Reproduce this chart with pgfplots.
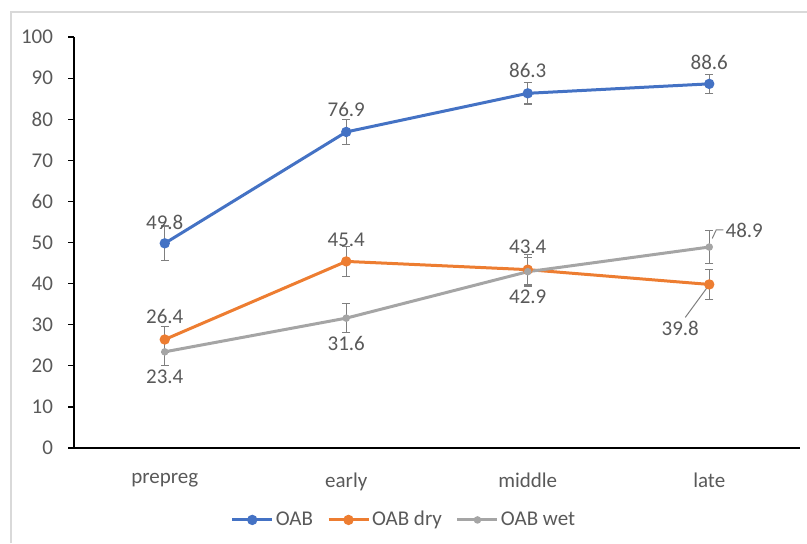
\documentclass[border=0pt]{standalone}
\usepackage{fontspec}
\setmainfont{Carlito}
\usepackage{pgfplots}
\pgfplotsset{compat=1.18}
\definecolor{cBlue}{HTML}{4472C4}
\definecolor{cOrange}{HTML}{ED7D31}
\definecolor{cGray}{HTML}{A5A5A5}
\definecolor{txt}{HTML}{595959}
\definecolor{errc}{HTML}{7F7F7F}
\tikzset{lab/.style={font=\fontsize{10.5}{12}\selectfont, text=txt, inner sep=0pt}}
\begin{document}
\begin{tikzpicture}[x=1pt,y=1pt]
\useasboundingbox (0,0) rectangle (403.5,271.5);
\draw[black!15, line width=0.8pt] (5.5,0) -- (5.5,265.5) -- (403.5,265.5);
\begin{axis}[
  at={(37pt,47.5pt)}, anchor=south west,
  width=363pt, height=205.5pt, scale only axis,
  xmin=-0.5, xmax=3.5, ymin=0, ymax=100,
  xtick={0,1,2,3}, xticklabels={prepreg,early,middle,late},
  ytick={0,10,...,100},
  axis x line*=bottom, axis y line*=left,
  axis line style={black, line width=0.8pt},
  xtick style={draw=none},
  ytick style={black, line width=0.6pt},
  tick align=outside, major tick length=3pt,
  tick label style={font=\fontsize{10.5}{12}\selectfont, text=txt},
  /pgf/number format/assume math mode=true,
  yticklabel style={xshift=-4pt},
  xticklabel style={yshift=-6pt},
  clip=false,
  legend style={at={(0.4545,-0.175)}, anchor=center, draw=none, fill=none,
    font=\fontsize{10.5}{12}\selectfont, text=txt, legend columns=3,
    nodes={inner xsep=1pt},
    /tikz/every even column/.append style={column sep=6pt}},
  legend cell align=left,
  legend image code/.code={\draw[mark repeat=2,mark phase=2] plot coordinates {(0pt,0pt) (10pt,0pt) (20pt,0pt)};},
  every axis plot/.append style={line width=1.5pt, mark=*, mark size=1.8pt,
    error bars/y dir=both, error bars/y explicit,
    error bars/error bar style={errc, line width=0.6pt, solid},
    error bars/error mark options={rotate=90, mark size=2pt, errc, line width=0.6pt}},
]
\addplot[cBlue, mark options={fill=cBlue, draw=cBlue}] coordinates {
  (0,49.8) +- (0,4.2)
  (1,76.9) +- (0,3.0)
  (2,86.3) +- (0,2.6)
  (3,88.6) +- (0,2.3)
};
\addlegendentry{OAB}
\addplot[cOrange, mark options={fill=cOrange, draw=cOrange}] coordinates {
  (0,26.4) +- (0,3.2)
  (1,45.4) +- (0,3.7)
  (2,43.4) +- (0,3.6)
  (3,39.8) +- (0,3.6)
};
\addlegendentry{OAB dry}
\addplot[cGray, mark options={fill=cGray, draw=cGray, scale=0.6}] coordinates {
  (0,23.4) +- (0,3.3)
  (1,31.6) +- (0,3.5)
  (2,42.9) +- (0,3.5)
  (3,48.9) +- (0,4.0)
};
\addlegendentry{OAB wet}
% data labels
\node[lab, yshift=10.5pt] at (axis cs:0,49.8) {49.8};
\node[lab, yshift=11pt] at (axis cs:1,76.9) {76.9};
\node[lab, yshift=11.5pt] at (axis cs:2,86.3) {86.3};
\node[lab, yshift=10.5pt] at (axis cs:3,88.6) {88.6};
\node[lab, yshift=11.5pt] at (axis cs:0,26.4) {26.4};
\node[lab, yshift=11pt] at (axis cs:1,45.4) {45.4};
\node[lab, yshift=11.5pt] at (axis cs:2,43.4) {43.4};
\node[lab, xshift=-14.5pt, yshift=-22pt] at (axis cs:3,39.8) {39.8};
\draw[errc, line width=0.5pt] ([xshift=-12pt,yshift=-16.5pt]axis cs:3,39.8) -- ([xshift=-1pt,yshift=-1.5pt]axis cs:3,39.8);
\node[lab, yshift=-12.5pt] at (axis cs:0,23.4) {23.4};
\node[lab, yshift=-12.5pt] at (axis cs:1,31.6) {31.6};
\node[lab, yshift=-12.5pt] at (axis cs:2,42.9) {42.9};
\node[lab, anchor=west, xshift=8pt, yshift=8.3pt] at (axis cs:3,48.9) {48.9};
\draw[errc, line width=0.5pt] ([xshift=1.5pt,yshift=4.3pt]axis cs:3,48.9) -- ([xshift=3.5pt,yshift=8.6pt]axis cs:3,48.9) -- ([xshift=7pt,yshift=8.6pt]axis cs:3,48.9);
\end{axis}
\end{tikzpicture}
\end{document}
